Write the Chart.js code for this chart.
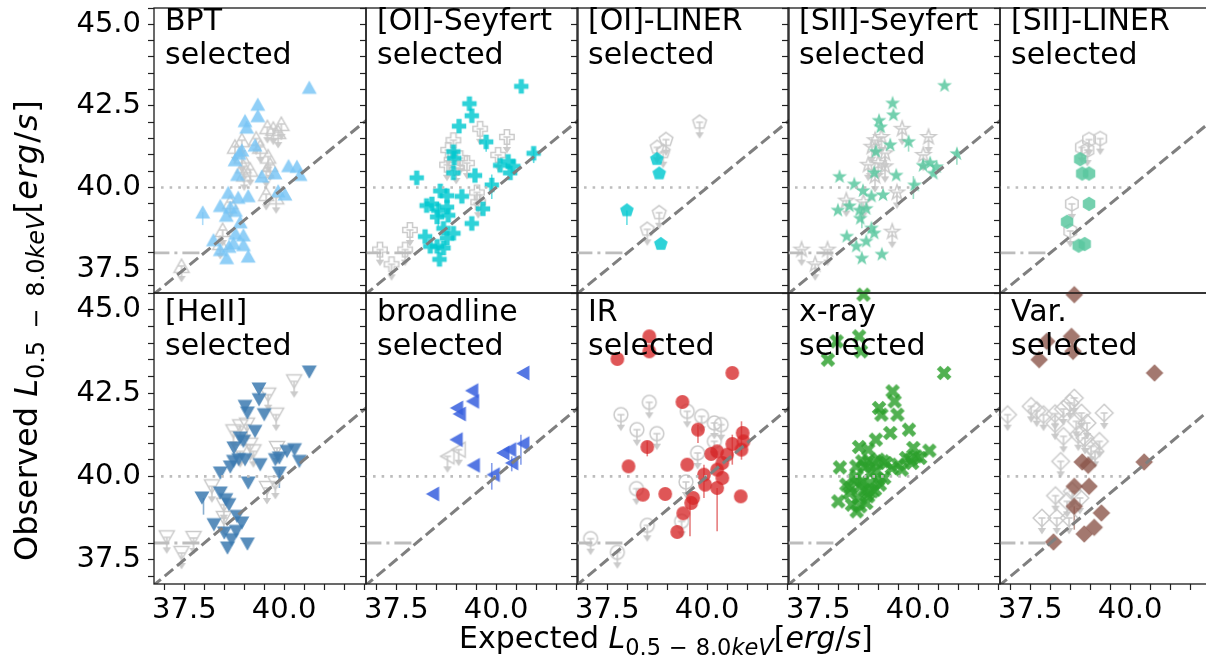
<!DOCTYPE html>
<html><head><meta charset="utf-8">
<script src="https://cdn.jsdelivr.net/npm/chart.js@4.4.1/dist/chart.umd.min.js"></script>
<style>
html,body{margin:0;padding:0;background:#fff;}
#root{position:relative;width:1206px;height:664px;overflow:hidden;background:#fff;font-family:'DejaVu Sans',sans-serif;}
#root canvas{position:absolute;}
.plab{position:absolute;font-size:30px;line-height:34.5px;color:#000;white-space:pre;}
.axl{position:absolute;font-size:30px;line-height:36px;color:#000;white-space:nowrap;}
.sub{font-size:0.75em;position:relative;top:0.3em;}
.op{padding:0 0.35em;}
#yl .op{padding:0 0.5em;}
#yl .br{letter-spacing:0.04em;}
</style></head><body>
<div id="root"></div>
<script>
// ---------------- axis ranges & ticks ----------------
const X_MIN = 36.74, X_MAX = 42.05, Y_MIN = 36.77, Y_MAX = 45.5;
const xTickValues = [37.0,37.5,38.0,38.5,39.0,39.5,40.0,40.5,41.0,41.5,42.0];
const xMajorValues = [37.5, 40.0];
const xMajorLabels = ['37.5', '40.0'];
const yTickValues = [37.0,37.5,38.0,38.5,39.0,39.5,40.0,40.5,41.0,41.5,42.0,42.5,43.0,43.5,44.0,44.5,45.0,45.5];
const yMajorValues = [37.5, 40.0, 42.5, 45.0];
const yMajorLabels = ['37.5', '40.0', '42.5', '45.0'];

// reference lines
const oneToOneLine = [[36.7, 36.7], [42.1, 42.1]];
const dottedLine40 = [[36.7, 40.0], [40.0, 40.0]];
const dashDotLine38 = [[36.7, 38.0], [38.0, 38.0]];

// ---------------- data: [expected, observed] ----------------
const bptSelected = [[40.63,43.07],[39.34,42.55],[39.34,42.2],[39.02,42.05],[39.06,41.85],[39.27,41.3],[38.94,41.15],[38.77,40.85],[38.87,41.05],[38.83,40.4],[39.44,40.35],[39.77,40.45],[40.11,40.67],[40.32,40.65],[40.4,40.4],[40.02,39.8],[39.85,39.9],[38.6,39.85],[38.85,39.7],[39.1,39.75],[38.4,39.45],[38.65,39.4],[38.78,39.3],[38.55,39.15],[37.96,39.25],[38.9,38.95],[38.98,38.55],[38.78,38.6],[38.23,38.4],[38.73,38.3],[38.4,38.1],[38.56,37.85],[39.1,37.9],[38.62,38.2],[38.98,38.25]];
const bptLimits = [[37.43,37.6],[38.46,38.7],[38.4,38.3],[38.65,39.55],[38.94,41.45],[38.77,41.25],[39.3,41.5],[39.4,41.25],[38.94,40.95],[38.98,40.65],[39.0,40.4],[39.6,40.95],[39.65,40.7],[39.55,40.5],[39.73,41.8],[39.93,41.95],[39.85,41.7],[39.58,41.85],[39.55,39.8],[39.8,39.7],[39.15,40.55]];
const bptErrors = [[37.96,38.85,39.25]];

const oiSeyfertSelected = [[40.63,43.1],[39.33,42.57],[39.39,42.2],[39.07,41.88],[39.75,41.4],[38.93,41.1],[38.95,40.9],[40.94,41.05],[40.1,40.68],[40.3,40.8],[40.43,40.65],[40.35,40.45],[38.01,40.3],[38.93,40.45],[39.47,40.37],[39.89,40.08],[38.6,39.9],[38.77,39.75],[39.14,39.73],[38.26,39.45],[38.39,39.5],[38.55,39.3],[38.77,39.4],[38.8,39.15],[38.52,39.1],[39.67,39.35],[39.39,38.9],[38.68,38.75],[38.93,38.6],[38.22,38.5],[38.77,38.45],[38.52,38.2],[38.68,38.15],[38.58,37.8],[38.35,38.2]];
const oiSeyfertLimits = [[37.09,38.1],[37.38,37.65],[37.72,38.1],[37.84,38.7],[38.93,41.45],[38.8,41.15],[40.27,41.55],[39.6,41.8],[38.77,40.7],[39.27,40.75],[39.1,40.9],[39.0,40.6],[39.52,39.85],[39.55,39.55],[40.05,41.0]];
const oiSeyfertErrors = [[39.89,39.65,40.4],[39.75,41.1,41.45],[40.94,40.75,41.2],[38.55,38.8,39.55]];

const oiLinerSelected = [[38.74,40.87],[38.8,40.43],[37.99,39.3],[38.84,38.27]];
const oiLinerLimits = [[39.81,42.0],[38.97,41.47],[38.75,41.23],[38.9,41.1],[38.8,39.23],[38.5,38.72]];
const oiLinerErrors = [[37.99,38.85,39.3]];

const siiSeyfertSelected = [[40.66,43.12],[39.36,42.58],[39.38,42.22],[39.02,42.05],[39.06,41.85],[39.76,41.4],[39.3,41.3],[38.94,41.1],[38.9,40.45],[39.45,40.37],[38.03,40.33],[38.4,40.1],[39.91,40.07],[40.12,40.67],[40.3,40.75],[40.46,40.63],[40.38,40.43],[40.97,41.03],[38.62,39.9],[38.83,39.73],[39.12,39.77],[37.99,39.3],[38.28,39.43],[38.53,39.3],[38.7,39.35],[38.55,39.05],[38.83,38.75],[38.9,38.6],[38.21,38.5],[38.7,38.35],[38.45,38.2],[39.09,37.95],[38.59,37.83]];
const siiSeyfertLimits = [[37.08,38.1],[37.42,37.65],[37.73,38.1],[39.35,38.65],[39.6,41.8],[40.26,41.55],[38.92,41.45],[39.08,41.55],[38.84,41.25],[39.17,41.05],[39.0,40.75],[38.75,40.7],[39.17,40.65],[38.92,40.35],[38.2,39.6],[38.63,39.55],[39.47,39.85],[40.13,41.0]];
const siiSeyfertErrors = [[38.59,38.75,39.55],[39.76,41.1,41.4],[39.88,39.65,40.35],[40.97,40.7,41.15]];

const siiLinerSelected = [[38.75,40.87],[38.8,40.43],[38.97,40.43],[38.97,39.5],[38.42,38.95],[38.71,38.22],[38.86,38.27]];
const siiLinerLimits = [[39.25,41.5],[38.97,41.47],[38.79,41.23],[38.93,41.15],[38.54,39.5],[38.5,38.67]];

const heiiSelected = [[40.63,43.13],[39.37,42.62],[39.37,42.3],[39.02,42.1],[39.08,41.9],[39.5,41.85],[39.27,41.35],[38.9,41.15],[38.98,41.05],[38.74,40.85],[38.86,40.5],[38.73,40.45],[39.02,40.5],[39.4,40.35],[39.78,40.5],[39.88,40.55],[40.07,40.75],[40.26,40.8],[40.38,40.45],[39.88,40.1],[38.4,40.1],[38.65,40.28],[39.1,39.8],[37.94,39.35],[38.4,39.5],[38.54,39.3],[38.62,39.15],[38.24,38.55],[38.82,38.8],[38.94,38.6],[38.5,38.3],[38.8,38.35],[38.58,37.85],[39.08,37.97],[38.68,38.1]];
const heiiLimits = [[37.06,38.17],[37.43,37.7],[37.73,38.15],[40.25,42.85],[39.6,42.45],[39.8,41.85],[38.73,41.35],[38.9,41.5],[39.07,41.55],[39.15,40.95],[39.23,40.75],[38.9,40.75],[39.82,40.85],[38.19,39.7],[38.49,39.15],[39.57,39.65],[39.78,39.8],[38.49,38.75]];
const heiiErrors = [[37.98,38.85,39.35],[39.88,39.65,40.2]];

const broadlineSelected = [[40.67,43.1],[39.39,42.57],[39.41,42.25],[39.01,42.05],[39.08,41.87],[39.0,41.1],[40.17,40.7],[40.34,40.8],[40.67,40.98],[40.39,40.4],[39.43,40.33],[39.93,40.05],[38.41,39.47]];
const broadlineLimits = [[38.78,40.6],[39.06,40.8]];
const broadlineErrors = [[39.89,39.6,40.4],[40.62,40.35,41.25],[40.39,40.15,40.6]];

const irSelected = [[38.55,44.2],[38.55,43.75],[37.75,43.52],[40.63,43.1],[39.38,42.23],[39.77,41.4],[38.5,40.88],[38.03,40.3],[39.5,40.35],[39.92,40.05],[39.95,39.75],[40.25,39.65],[40.38,39.95],[40.25,40.2],[40.38,40.4],[40.1,40.67],[40.25,40.75],[40.5,40.65],[40.63,40.97],[40.89,41.3],[40.91,41.05],[40.86,40.8],[40.84,39.4],[38.39,39.45],[38.95,39.47],[39.65,39.35],[39.6,39.2],[39.4,38.89],[39.25,38.33]];
const irLimits = [[37.08,38.13],[37.75,37.72],[38.55,42.22],[37.84,41.85],[38.24,41.4],[38.74,41.28],[39.5,41.95],[39.86,41.8],[40.18,41.6],[40.35,41.55],[40.18,41.05],[39.76,40.7],[39.47,39.83],[38.23,39.63],[38.5,38.53],[39.36,38.65]];
const irErrors = [[40.25,38.35,39.65],[39.57,38.2,39.35],[40.86,40.5,41.65],[39.92,39.35,40.35],[38.5,40.6,41.05],[39.77,41.0,41.55],[40.63,40.35,41.25]];

const xraySelected = [[38.63,45.45],[37.96,44.05],[38.52,44.2],[37.74,43.5],[38.57,43.75],[40.65,43.1],[39.36,42.55],[39.41,42.25],[39.02,42.05],[39.08,41.85],[39.48,41.85],[39.77,41.4],[39.3,41.3],[38.94,41.1],[38.52,40.88],[38.75,40.8],[39.88,40.85],[40.28,40.77],[40.05,40.55],[39.8,40.5],[38.04,40.27],[38.75,40.45],[39.0,40.5],[39.12,40.45],[38.67,40.3],[39.34,40.25],[39.5,40.35],[39.59,40.2],[38.46,40.0],[38.59,39.85],[38.8,39.8],[39.04,39.75],[38.2,39.75],[38.28,39.5],[38.5,39.35],[38.75,39.4],[38.0,39.25],[38.34,39.15],[38.46,38.95],[38.75,39.5],[38.92,39.6],[38.4,39.9],[38.55,39.7],[38.65,39.6],[38.85,39.55],[39.0,39.9],[39.2,40.4],[38.9,40.4],[38.6,40.45],[38.45,40.3],[38.7,39.2],[38.55,39.1],[38.3,39.65],[39.15,39.95],[38.95,40.15],[38.8,40.1],[39.7,40.55],[39.95,40.6],[39.85,40.4]];

const varSelected = [[38.6,45.45],[37.91,44.05],[38.53,44.2],[37.72,43.5],[38.57,43.75],[40.61,43.1],[40.35,40.43],[38.8,40.43],[38.95,40.33],[38.6,39.7],[38.97,39.7],[38.6,39.1],[39.28,38.9],[39.1,38.47],[38.85,38.27],[38.08,38.03]];
const varLimits = [[36.93,41.85],[37.52,42.1],[37.66,41.97],[37.83,41.85],[38.12,41.88],[38.12,41.58],[38.33,42.02],[38.6,42.35],[38.49,42.2],[38.78,41.9],[38.65,41.65],[38.92,41.6],[39.35,41.9],[38.33,41.2],[38.7,41.25],[38.87,41.15],[39.23,41.05],[39.02,40.9],[39.12,40.75],[38.26,40.45],[38.13,39.42],[38.42,39.25],[38.74,39.35],[37.79,38.75],[38.16,38.75],[38.47,38.75],[38.55,39.55]];
const varErrors = [[38.6,38.4,39.1]];

const panelLabels = [
  ['BPT','selected'], ['[OI]-Seyfert','selected'], ['[OI]-LINER','selected'], ['[SII]-Seyfert','selected'], ['[SII]-LINER','selected'],
  ['[HeII]','selected'], ['broadline','selected'], ['IR','selected'], ['x-ray','selected'], ['Var.','selected']
];

// ---------------- styling ----------------
const panels = [
  {sel: bptSelected, lim: bptLimits, err: bptErrors, shape: 'triUp', color: 'rgba(120,196,245,0.82)'},
  {sel: oiSeyfertSelected, lim: oiSeyfertLimits, err: oiSeyfertErrors, shape: 'plus', color: 'rgba(0,200,208,0.82)'},
  {sel: oiLinerSelected, lim: oiLinerLimits, err: oiLinerErrors, shape: 'pentagon', color: 'rgba(0,200,208,0.82)'},
  {sel: siiSeyfertSelected, lim: siiSeyfertLimits, err: siiSeyfertErrors, shape: 'star', color: 'rgba(90,200,160,0.85)'},
  {sel: siiLinerSelected, lim: siiLinerLimits, err: [], shape: 'hexagon', color: 'rgba(90,200,160,0.85)'},
  {sel: heiiSelected, lim: heiiLimits, err: heiiErrors, shape: 'triDown', color: 'rgba(60,122,176,0.85)'},
  {sel: broadlineSelected, lim: broadlineLimits, err: broadlineErrors, shape: 'triLeft', color: 'rgba(55,95,222,0.85)'},
  {sel: irSelected, lim: irLimits, err: irErrors, shape: 'circle', color: 'rgba(214,39,40,0.78)'},
  {sel: xraySelected, lim: [], err: [], shape: 'xfill', color: 'rgba(44,160,44,0.82)'},
  {sel: varSelected, lim: varLimits, err: varErrors, shape: 'diamond', color: 'rgba(140,86,75,0.8)'}
];

const COL_LEFT = [154, 366, 577, 788, 1000];
const PANEL_W = 212, PANEL_H = 291;
const ROW_TOP = [2, 293];

function shapePath(ctx, shape, cx, cy) {
  ctx.beginPath();
  const poly = pts => { pts.forEach((p, i) => i ? ctx.lineTo(cx + p[0], cy + p[1]) : ctx.moveTo(cx + p[0], cy + p[1])); ctx.closePath(); };
  const reg = (n, R, a0) => { const pts = []; for (let k = 0; k < n; k++) { const a = (a0 + k * 360 / n) * Math.PI / 180; pts.push([R * Math.cos(a), R * Math.sin(a)]); } return pts; };
  const cross = (R, w, rot) => {
    const base = [[-w,-R],[w,-R],[w,-w],[R,-w],[R,w],[w,w],[w,R],[-w,R],[-w,w],[-R,w],[-R,-w],[-w,-w]];
    const c = Math.cos(rot), s = Math.sin(rot);
    return base.map(p => [p[0]*c - p[1]*s, p[0]*s + p[1]*c]);
  };
  switch (shape) {
    case 'triUp': poly([[0,-6.8],[-7.5,6.5],[7.5,6.5]]); break;
    case 'triDown': poly([[0,6.8],[-7.5,-6.5],[7.5,-6.5]]); break;
    case 'triLeft': poly([[-6.8,0],[6.5,-7.5],[6.5,7.5]]); break;
    case 'plus': poly(cross(7.2, 2.6, 0)); break;
    case 'xfill': poly(cross(7.8, 2.5, Math.PI/4)); break;
    case 'pentagon': poly(reg(5, 7.2, -90)); break;
    case 'hexagon': poly(reg(6, 7.2, -90)); break;
    case 'star': {
      const pts = [];
      for (let k = 0; k < 10; k++) { const R = k % 2 ? 3.1 : 7.8; const a = (-90 + k * 36) * Math.PI / 180; pts.push([R*Math.cos(a), R*Math.sin(a)]); }
      poly(pts); break;
    }
    case 'diamond': poly([[0,-8.8],[8.8,0],[0,8.8],[-8.8,0]]); break;
    case 'circle': ctx.arc(cx, cy, 6.9, 0, Math.PI * 2); ctx.closePath(); break;
  }
}

function markerImage(shape, fill) {
  const c = document.createElement('canvas');
  c.width = 24; c.height = 24;
  const ctx = c.getContext('2d');
  shapePath(ctx, shape, 12, 12);
  ctx.fillStyle = fill; ctx.fill();
  return c;
}

function limitImage(shape) {
  const c = document.createElement('canvas');
  c.width = 24; c.height = 40;
  const ctx = c.getContext('2d');
  const cx = 12, cy = 20;
  const gray = 'rgba(200,200,200,0.95)';
  ctx.strokeStyle = gray; ctx.fillStyle = gray; ctx.lineWidth = 1.6;
  ctx.beginPath(); ctx.moveTo(cx - 3.5, cy); ctx.lineTo(cx + 3.5, cy); ctx.moveTo(cx, cy); ctx.lineTo(cx, cy + 11); ctx.stroke();
  ctx.beginPath(); ctx.moveTo(cx - 4.2, cy + 10); ctx.lineTo(cx + 4.2, cy + 10); ctx.lineTo(cx, cy + 16.5); ctx.closePath(); ctx.fill();
  shapePath(ctx, shape, cx, cy);
  ctx.lineWidth = 1.5; ctx.stroke();
  return c;
}

function labelFor(v, majors, labels) {
  const i = majors.findIndex(m => Math.abs(m - v) < 1e-6);
  return i >= 0 ? labels[i] : '';
}
const toPts = arr => arr.map(p => ({x: p[0], y: p[1]}));

const framePlugin = {
  id: 'frame',
  afterDraw(chart) {
    const {ctx, chartArea: a} = chart;
    ctx.save();
    ctx.strokeStyle = '#1a1a1a'; ctx.lineWidth = 1.3;
    ctx.strokeRect(a.left, a.top, a.right - a.left, a.bottom - a.top);
    ctx.restore();
  }
};

// vertical error bars, drawn through the chart's own scales
const errorBarPlugin = {
  id: 'errbars',
  beforeDatasetsDraw(chart, args, opts) {
    const rows = opts.rows || [];
    if (!rows.length) return;
    const {ctx, scales: {x, y}} = chart;
    ctx.save();
    ctx.strokeStyle = opts.color; ctx.lineWidth = 1.6;
    rows.forEach(e => {
      const px = x.getPixelForValue(e[0]);
      ctx.beginPath(); ctx.moveTo(px, y.getPixelForValue(e[1])); ctx.lineTo(px, y.getPixelForValue(e[2])); ctx.stroke();
    });
    ctx.restore();
  }
};

const root = document.getElementById('root');
const tickFont = {family: "'DejaVu Sans', sans-serif", size: 29};

panels.forEach((p, idx) => {
  const c = idx % 5, r = Math.floor(idx / 5);
  const padL = c === 0 ? 154 : 12, padR = 12;
  const padT = r === 0 ? 2 : 22, padB = r === 0 ? 12 : 62;
  const cv = document.createElement('canvas');
  cv.width = padL + PANEL_W + padR; cv.height = padT + PANEL_H + padB;
  cv.style.left = (COL_LEFT[c] - padL) + 'px';
  cv.style.top = (ROW_TOP[r] - padT) + 'px';
  cv.style.width = cv.width + 'px'; cv.style.height = cv.height + 'px';
  root.appendChild(cv);

  new Chart(cv, {
    type: 'scatter',
    data: {datasets: [
      {data: toPts(oneToOneLine), showLine: true, borderColor: '#7f7f7f', borderWidth: 3, borderDash: [11, 5], pointRadius: 0},
      {data: toPts(dottedLine40), showLine: true, borderColor: '#bdbdbd', borderWidth: 2.6, borderDash: [2.6, 6], pointRadius: 0},
      {data: toPts(dashDotLine38), showLine: true, borderColor: '#bdbdbd', borderWidth: 2.8, borderDash: [17, 5, 3, 5], pointRadius: 0},
      {data: toPts(p.sel), pointStyle: markerImage(p.shape, p.color), pointRadius: 7, clip: false},
      {data: toPts(p.lim), pointStyle: limitImage(p.shape), pointRadius: 7, clip: false}
    ]},
    options: {
      responsive: false, animation: false, events: [],
      layout: {padding: {left: 0, right: padR, top: padT, bottom: r === 0 ? padB : 0}},
      plugins: {legend: {display: false}, tooltip: {enabled: false},
                errbars: {rows: p.err, color: p.color.replace(/[\d.]+\)$/, '0.6)')}},
      scales: {
        x: {
          type: 'linear', min: X_MIN, max: X_MAX, display: r === 1,
          afterBuildTicks: a => { a.ticks = xTickValues.map(v => ({value: v})); },
          afterFit: a => { a.height = r === 1 ? padB : 0; a.paddingLeft = 0; a.paddingRight = 0; a.paddingTop = 0; a.paddingBottom = 0; },
          ticks: {autoSkip: false, maxRotation: 0, minRotation: 0, padding: 3, color: '#000', font: tickFont,
                  callback: v => labelFor(v, xMajorValues, xMajorLabels)},
          grid: {drawOnChartArea: false, drawTicks: true, tickLength: 6, tickColor: '#222', tickWidth: 1.2},
          border: {display: false}
        },
        y: {
          type: 'linear', min: Y_MIN, max: Y_MAX,
          afterBuildTicks: a => { a.ticks = yTickValues.map(v => ({value: v})); },
          afterFit: a => { a.width = padL; a.paddingTop = 0; a.paddingBottom = 0; a.paddingLeft = 0; a.paddingRight = 0; },
          ticks: {autoSkip: false, padding: 7, color: '#000', font: tickFont,
                  callback: v => c === 0 ? labelFor(v, yMajorValues, yMajorLabels) : ''},
          grid: {drawOnChartArea: false, drawTicks: true, tickLength: 6, tickColor: '#222', tickWidth: 1.2},
          border: {display: false}
        }
      }
    },
    plugins: [errorBarPlugin, framePlugin]
  });

  const lab = document.createElement('div');
  lab.className = 'plab';
  lab.style.left = (COL_LEFT[c] + 11) + 'px';
  lab.style.top = (ROW_TOP[r] + 0.5) + 'px';
  lab.textContent = panelLabels[idx].join('\n');
  root.appendChild(lab);
});

// axis titles
const mathPart = '<i>L</i><span class="sub">0.5<span class="op">−</span>8.0<i>keV</i></span><span class="br">[<i>erg</i>/<i>s</i>]</span>';
const xl = document.createElement('div');
xl.className = 'axl';
xl.style.left = '459px'; xl.style.top = '620px';
xl.innerHTML = 'Expected ' + mathPart;
root.appendChild(xl);

const yl = document.createElement('div');
yl.className = 'axl';
yl.id = 'yl';
yl.style.fontSize = '32px';
yl.style.lineHeight = '38px';
yl.style.left = '7px';
yl.style.transformOrigin = '0 0'; yl.style.transform = 'rotate(-90deg)';
yl.innerHTML = 'Observed ' + mathPart;
root.appendChild(yl);
// centre the rotated title on y = 330
const yLen = yl.offsetWidth;
yl.style.top = (330 + yLen / 2) + 'px';
</script>
</body></html>
